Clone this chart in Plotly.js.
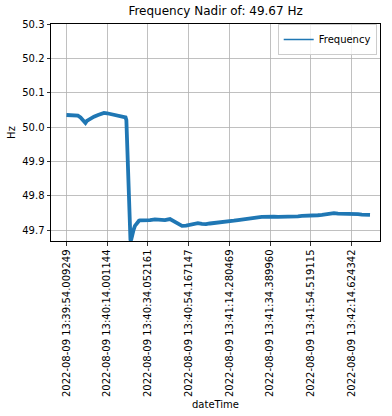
<!DOCTYPE html>
<html>
<head>
<meta charset="utf-8">
<script src="https://cdn.plot.ly/plotly-3.0.1.min.js"></script>
<style>html,body{margin:0;padding:0;background:#fff;}#chart{width:392px;height:416px;}</style>
</head>
<body>
<div id="chart"></div>
<script>
// sample index of each reading
const sampleIdx = [0,17,37,56,69,79,86,93,100,115,135,155,174,184,199,218,238,258,277,290,294,302,309,314,317,321,329,336,346,356,
  361,385,410,434,459,483,508,528,547,567,587,606,626,645,665,685,704,724,743,763,783,802,822,842,861,881,900,920,940,959,979,
  999,1018,1038,1058,1077,1097,1117,1136,1156,1175,1195,1215,1234,1254,1274,1293,1313,1333,1352,1372,1391,1411,1431,1450,1470,1490];
// frequency readings (Hz)
const frequency = [50.035,50.035,50.034,50.033,50.028,50.020,50.013,50.012,50.018,50.024,50.030,50.035,50.039,50.041,50.040,50.037,50.034,50.031,50.030,50.028,50.020,49.860,49.720,49.672,49.670,49.685,49.700,49.712,49.722,49.727,
  49.728,49.728,49.729,49.731,49.729,49.729,49.732,49.725,49.716,49.712,49.713,49.716,49.719,49.720,49.718,49.717,49.719,49.720,49.722,49.723,49.725,
  49.726,49.727,49.729,49.731,49.733,49.735,49.736,49.737,49.738,49.739,
  49.739,49.739,49.738,49.738,49.739,49.738,49.739,49.740,49.741,49.741,49.742,49.743,49.743,49.744,49.746,49.748,49.749,49.748,49.748,49.747,49.747,49.746,49.746,49.745,49.745,49.744];
// tick positions (sample index) and labels
const tickIdx = [0,200,400,600,800,1000,1200,1400];
const tickLabels = ["2022-08-09 13:39:54.009249","2022-08-09 13:40:14.001144","2022-08-09 13:40:34.052161","2022-08-09 13:40:54.167147",
  "2022-08-09 13:41:14.280469","2022-08-09 13:41:34.389960","2022-08-09 13:41:54.519115","2022-08-09 13:42:14.624342"];
const yTicks = [49.7,49.8,49.9,50.0,50.1,50.2,50.3];
const nadir = 49.67;

const font = "DejaVu Sans, sans-serif";
const trace = {
  x: sampleIdx, y: frequency, type: "scatter", mode: "lines", name: "Frequency", showlegend: false,
  line: {color: "#1f77b4", width: 3.8}
};
const legendTrace = {
  x: [null], y: [null], type: "scatter", mode: "lines", name: "Frequency", showlegend: true,
  line: {color: "#1f77b4", width: 1.5}
};
const layout = {
  width: 392, height: 416,
  margin: {l: 51, r: 12, t: 24, b: 175},
  paper_bgcolor: "#fff", plot_bgcolor: "#fff",
  font: {family: font, size: 10, color: "#000"},
  title: {text: "Frequency Nadir of: " + nadir.toFixed(2) + " Hz", font: {family: font, size: 12, color: "#000"},
    x: 0.55, xanchor: "center", y: 0.985, yanchor: "top"},
  showlegend: true,
  legend: {x: 0.99, xanchor: "right", y: 1.0, yanchor: "top", bgcolor: "rgba(255,255,255,0.8)",
    bordercolor: "#cccccc", borderwidth: 1, itemwidth: 30, tracegroupgap: 0,
    font: {family: font, size: 10, color: "#000"}},
  xaxis: {
    range: [-76, 1539], tickmode: "array", tickvals: tickIdx, ticktext: tickLabels, tickangle: -90,
    showgrid: true, gridcolor: "#b0b0b0", gridwidth: 0.8, zeroline: false,
    showline: true, linecolor: "#000", linewidth: 1, mirror: true,
    ticks: "outside", ticklen: 3.5, tickcolor: "#000", tickwidth: 0.8,
    tickfont: {family: font, size: 10, color: "#000"},
    title: {text: "dateTime", font: {family: font, size: 10, color: "#000"}, standoff: 4},
    automargin: false
  },
  yaxis: {
    range: [49.668, 50.3], tickmode: "array", tickvals: yTicks, ticktext: yTicks.map(v => v.toFixed(1)),
    showgrid: true, gridcolor: "#b0b0b0", gridwidth: 0.8, zeroline: false,
    showline: true, linecolor: "#000", linewidth: 1, mirror: true,
    ticks: "outside", ticklen: 3.5, tickcolor: "#000", tickwidth: 0.8,
    tickfont: {family: font, size: 10, color: "#000"},
    title: {text: "Hz", font: {family: font, size: 10, color: "#000"}, standoff: 4},
    automargin: false
  }
};
Plotly.newPlot("chart", [trace, legendTrace], layout, {displayModeBar: false, staticPlot: true});
</script>
</body>
</html>
